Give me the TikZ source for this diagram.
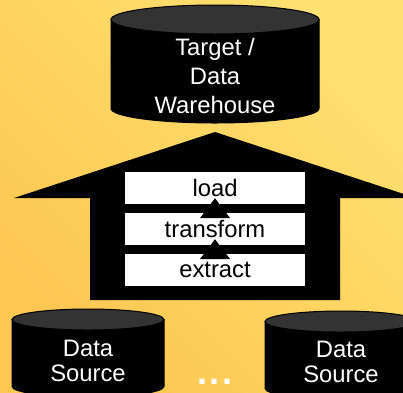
\documentclass[tikz,border=0pt]{standalone}
\usepackage{fontspec}
\setmainfont{Liberation Sans}
\usetikzlibrary{arrows.meta,calc,positioning}
\definecolor{bglow}{HTML}{FDC751}
\definecolor{bghigh}{HTML}{FFE070}
\definecolor{lidgray}{HTML}{333333}
\begin{document}
\begin{tikzpicture}[
		x=1pt,y=-1pt,
		storebody/.style={draw=black, fill=black, line width=1pt},
		storelid/.style={draw=black, fill=lidgray, line width=1pt},
		storetext/.style={text=white, align=center, inner sep=0pt},
		stage/.style={rectangle, fill=white, minimum width=180pt, minimum height=32pt, inner sep=0pt, font=\fontsize{23.8}{29}\selectfont},
		flow/.style={-{Triangle[length=20pt,width=30pt]}, line width=1pt, shorten >=-6pt, shorten <=-5pt}
		]
	
		\useasboundingbox (0,0) rectangle (403,392);
		\clip (0,0) rectangle (403,392);
		\shade[bottom color=bglow, top color=bghigh, shading angle=-45] (0,0) rectangle (403,392);
	
		% --- big arrow ---
		\fill[black] (215,132) -- (416,198) -- (340,198) -- (340,300) -- (90,300) -- (90,198) -- (14,198) -- cycle;
	
		% --- stages ---
		\node[stage] (L) at (215,188) {load};
		\node[stage] (T) at (215,229) {transform};
		\node[stage] (E) at (215,270) {extract};
	
		\draw[flow] (E) -- (T);
		\draw[flow] (T) -- (L);
	
		% --- stores: centre x, half width, lid radius, top y, bottom y ---
		\foreach \cx/\rx/\ry/\ytop/\ybot in {215/104/14.5/5/123, 88/76/10.5/309/397, 341/76/10.5/311/399}{
			\draw[storebody] (\cx-\rx,\ytop+\ry) -- (\cx-\rx,\ybot-\ry)
				arc[start angle=180, end angle=360, x radius=\rx pt, y radius=\ry pt]
				-- (\cx+\rx,\ytop+\ry) -- cycle;
			\draw[storelid] (\cx,\ytop+\ry) ellipse[x radius=\rx pt, y radius=\ry pt];
		}
	
		\node[storetext, font=\fontsize{23.8}{29}\selectfont] (Wt) at (215,76) {Target /\\Data\\Warehouse};
		\node[storetext, font=\fontsize{23.8}{25}\selectfont] (S1t) at (88,361) {Data\\Source};
		\node[storetext, font=\fontsize{23.8}{25}\selectfont] (S2t) at (341,362) {Data\\Source};
	
		\node[text=white, inner sep=0pt, font=\bfseries\fontsize{36}{36}\selectfont] (dots) at (215,382) {.\kern3pt.\kern3pt.};
	
	\end{tikzpicture}
\end{document}
